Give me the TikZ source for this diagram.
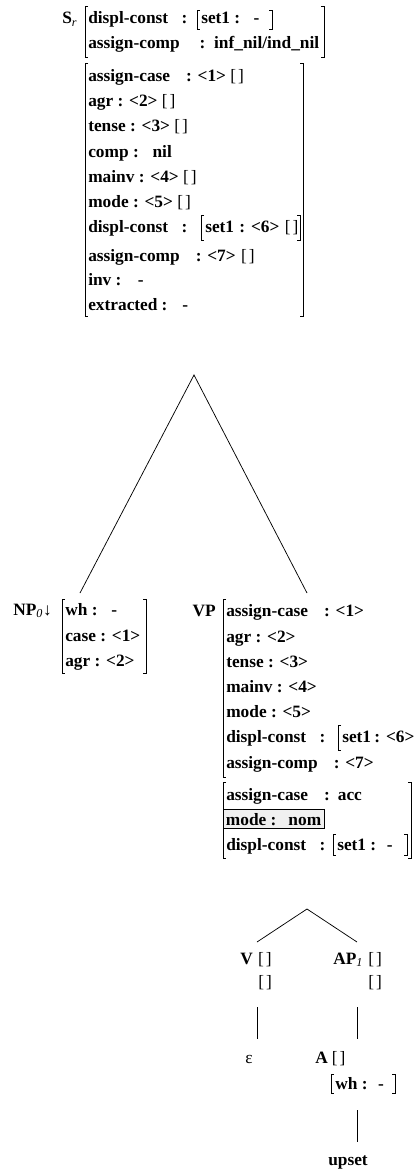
\documentclass[tikz,border=0pt]{standalone}
\usepackage{fontspec}
\setmainfont{Liberation Serif}
\usetikzlibrary{positioning}

\newcommand{\avm}{\fontsize{13pt}{15pt}\selectfont\bfseries}
\newcommand{\eb}{{\mdseries[\kern1.5pt]}}
\newcommand{\avmopen}[3]{\draw[brk] (#1+3,#2) -- (#1,#2) -- (#1,#3) -- (#1+3,#3);}
\newcommand{\avmclose}[3]{\draw[brk] (#1-3,#2) -- (#1,#2) -- (#1,#3) -- (#1-3,#3);}

\begin{document}
\begin{tikzpicture}[x=0.75pt, y=-0.75pt,
    lab/.style={anchor=base west, inner sep=0pt, font=\avm},
    brk/.style={line width=0.5pt},
    branch/.style={line width=0.55pt}]
    \useasboundingbox (0,0) rectangle (414,1170);
    \clip (0,0) rectangle (414,1170);

    % root S_r, top features
    \node[lab] (sr) at (62,24) {S\textsubscript{\mdseries\itshape r}};
    \avmopen{85}{6}{57} \avmclose{324}{6}{57}
    \node[lab] (sr dc) at (88,24) {displ-const\hspace{10pt}:};
    \avmopen{197}{10}{29} \avmclose{272}{10}{29}
    \node[lab] (sr set) at (201,24) {set1 :\hspace{10pt}-};
    \node[lab] (sr ac) at (88,49) {assign-comp\hspace{15pt}:\hspace{6.5pt}inf\_nil/ind\_nil};

    % root S_r, bottom features
    \avmopen{85}{63}{316} \avmclose{303}{63}{316}
    \node[lab] (sb case) at (88,82) {assign-case\hspace{12pt}: <1> \eb};
    \node[lab] (sb agr) at (88,107) {agr : <2> \eb};
    \node[lab] (sb tense) at (88,132) {tense : <3> \eb};
    \node[lab] (sb comp) at (88,157) {comp : \hspace{6pt}nil};
    \node[lab] (sb mainv) at (88,182) {mainv : <4> \eb};
    \node[lab] (sb mode) at (88,207) {mode : <5> \eb};
    \node[lab] (sb dc) at (88,232) {displ-const\hspace{10pt}:};
    \avmopen{201}{215}{240} \avmclose{300}{215}{240}
    \node[lab] (sb set) at (205,232) {set1\hspace{4pt}: <6>\hspace{4pt}\eb};
    \node[lab] (sb ac) at (88,261) {assign-comp\hspace{12pt}: <7>\hspace{4pt}\eb};
    \node[lab] (sb inv) at (88,285) {inv : \hspace{8pt}-};
    \node[lab] (sb extr) at (88,310) {extracted\hspace{3pt}: \hspace{7pt}-};

    % branches of S_r
    \coordinate (s foot) at (194,375);
    \coordinate (np top) at (80,593);
    \coordinate (vp top) at (307,593);
    \draw[branch] (np top) -- (s foot) -- (vp top);

    % subject NP
    \node[lab] (np) at (13,615) {NP\textsubscript{\mdseries\itshape 0}{\mdseries ↓}};
    \avmopen{62}{599}{673} \avmclose{146}{599}{673}
    \node[lab] (np wh) at (65,615) {wh : \hspace{6pt}-};
    \node[lab] (np case) at (65,641) {case : <1>};
    \node[lab] (np agr) at (65,666) {agr : <2>};

    % VP, top features
    \node[lab, anchor=base east] (vp) at (216,616) {VP};
    \avmopen{223}{599}{777}
    \node[lab] (vt case) at (226,616) {assign-case\hspace{12pt}: <1>};
    \node[lab] (vt agr) at (226,642) {agr : <2>};
    \node[lab] (vt tense) at (226,667) {tense : <3>};
    \node[lab] (vt mainv) at (226,692) {mainv : <4>};
    \node[lab] (vt mode) at (226,717) {mode : <5>};
    \node[lab] (vt dc) at (226,742) {displ-const\hspace{10pt}:};
    \avmopen{338}{725}{750}
    \node[lab] (vt set) at (342,742) {set1\hspace{2.5pt}: <6>};
    \node[lab] (vt ac) at (226,768) {assign-comp\hspace{12pt}: <7>};

    % VP, bottom features
    \avmopen{223}{782}{858} \avmclose{411}{782}{858}
    \node[lab] (vb case) at (226,800) {assign-case\hspace{12pt}:\hspace{6pt}acc};
    \node[lab, draw, fill=gray!12, inner xsep=2pt, inner ysep=2.5pt] (vb mode) at (223,825) {mode :\hspace{9pt}nom};
    \node[lab] (vb dc) at (226,850) {displ-const\hspace{10pt}:};
    \avmopen{333}{834}{855} \avmclose{407}{834}{855}
    \node[lab] (vb set) at (337,850) {set1 :\hspace{8pt}-};

    % V and AP under VP
    \coordinate (vp foot) at (307,909);
    \coordinate (v top) at (257,942);
    \coordinate (ap top) at (357,942);
    \draw[branch] (v top) -- (vp foot) -- (ap top);
    \node[lab] (v) at (240,964) {V\hspace{4pt}\eb};
    \node[lab] (v bot) at (258,987) {\eb};
    \node[lab] (ap) at (333,964) {AP\textsubscript{\mdseries\itshape 1}\hspace{4pt}\eb};
    \node[lab] (ap bot) at (368,987) {\eb};

    % empty head and adjective
    \coordinate (v foot) at (257,1007);
    \coordinate (eps top) at (257,1039);
    \draw[branch] (v foot) -- (eps top);
    \node[lab] (eps) at (245,1063) {\mdseries ε};
    \coordinate (ap foot) at (357,1007);
    \coordinate (a top) at (357,1039);
    \draw[branch] (ap foot) -- (a top);
    \node[lab] (a) at (315,1063) {A\hspace{3pt}\eb};
    \avmopen{331}{1074}{1093} \avmclose{395}{1074}{1093}
    \node[lab] (a wh) at (335,1089) {wh :\hspace{8pt}-};

    % anchor word
    \coordinate (a foot) at (357,1110);
    \coordinate (upset top) at (357,1142);
    \draw[branch] (a foot) -- (upset top);
    \node[lab] (upset) at (328,1165) {upset};
\end{tikzpicture}
\end{document}
